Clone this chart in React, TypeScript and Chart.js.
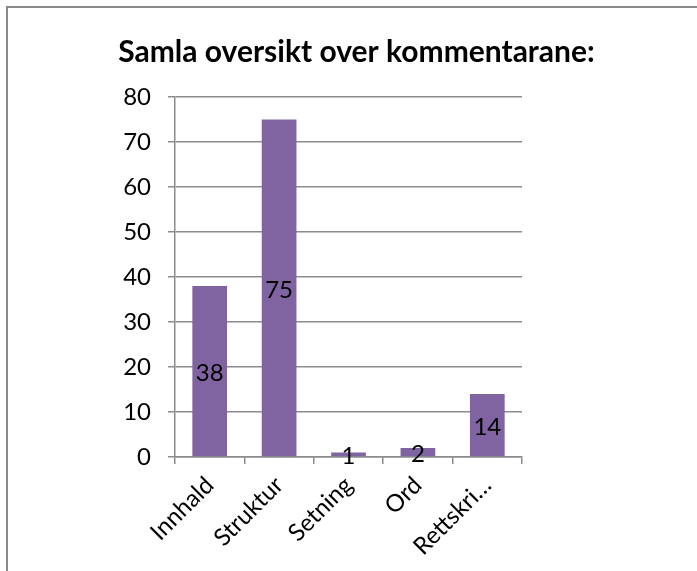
import React, { useEffect, useRef } from "react";
import { Chart, registerables } from "chart.js";

Chart.register(...registerables);

const categories = ["Innhald", "Struktur", "Setning", "Ord", "Rettskri…"];
const values = [38, 75, 1, 2, 14];
const yTicks = { min: 0, max: 80, step: 10 };
const titleText = "Samla oversikt over kommentarane:";

const FONT = "Lato, 'Open Sans', sans-serif";
const GRID = "#8c8c8c";
const BAR = "#8064A2";

const valueLabels = {
  id: "valueLabels",
  afterDatasetsDraw(chart: any) {
    const ctx = chart.ctx;
    ctx.save();
    ctx.font = `24px ${FONT}`;
    ctx.fillStyle = "#000";
    ctx.textAlign = "center";
    ctx.textBaseline = "middle";
    chart.data.datasets.forEach((ds: any, di: number) => {
      const meta = chart.getDatasetMeta(di);
      meta.data.forEach((el: any, i: number) => {
        const y = (el.y + el.base) / 2 + 2;
        ctx.fillText(String(ds.data[i]), el.x, y);
      });
    });
    ctx.restore();
  },
};

export default function App() {
  const ref = useRef<HTMLCanvasElement | null>(null);
  useEffect(() => {
    if (!ref.current) return;
    const chart = new Chart(ref.current, {
      type: "bar",
      data: {
        labels: categories,
        datasets: [
          {
            data: values,
            backgroundColor: BAR,
            barPercentage: 0.5,
            categoryPercentage: 1,
            yAxisID: "y",
          },
        ],
      },
      options: {
        animation: false,
        responsive: false,
        maintainAspectRatio: false,
        layout: { padding: { left: 16, right: 0, top: 34, bottom: 0 } },
        plugins: {
          legend: { display: false },
          tooltip: { enabled: false },
          title: {
            display: true,
            text: titleText,
            color: "#000",
            font: { family: FONT, size: 30, weight: "bold" },
            padding: { top: 0, bottom: 27 },
          },
        },
        scales: {
          x: {
            grid: {
              display: true,
              drawOnChartArea: false,
              drawTicks: true,
              tickLength: 7,
              color: GRID,
              lineWidth: 1.5,
              offset: true,
            },
            border: { display: true, color: GRID, width: 1.5 },
            ticks: {
              color: "#000",
              font: { family: FONT, size: 24 },
              minRotation: 45,
              maxRotation: 45,
              padding: 7,
              autoSkip: false,
            },
            afterFit: (s: any) => {
              s.height = 114;
            },
          },
          y: {
            min: yTicks.min,
            max: yTicks.max,
            grid: { color: GRID, lineWidth: 1.5, tickLength: 7 },
            border: { display: true, color: GRID, width: 1.5 },
            ticks: {
              stepSize: yTicks.step,
              color: "#000",
              font: { family: FONT, size: 24 },
              padding: 17,
            },
            afterFit: (s: any) => {
              s.width = 159;
            },
          },
          y2: {
            position: "right",
            display: true,
            grid: { display: false },
            border: { display: false },
            ticks: { display: false },
            afterFit: (s: any) => {
              s.width = 175;
            },
          },
        },
      },
      plugins: [valueLabels],
    });
    return () => chart.destroy();
  }, []);
  return (
    <div
      style={{
        position: "absolute",
        left: 0,
        top: 0,
        width: 697,
        height: 571,
        overflow: "hidden",
        background: "#fff",
      }}
    >
      <div
        style={{
          position: "absolute",
          left: 6,
          top: 6,
          width: 800,
          height: 700,
          border: "2px solid #8a8a8a",
        }}
      />
      <canvas
        ref={ref}
        width={697}
        height={571}
        style={{ position: "absolute", left: 0, top: 0, width: 697, height: 571 }}
      />
    </div>
  );
}
